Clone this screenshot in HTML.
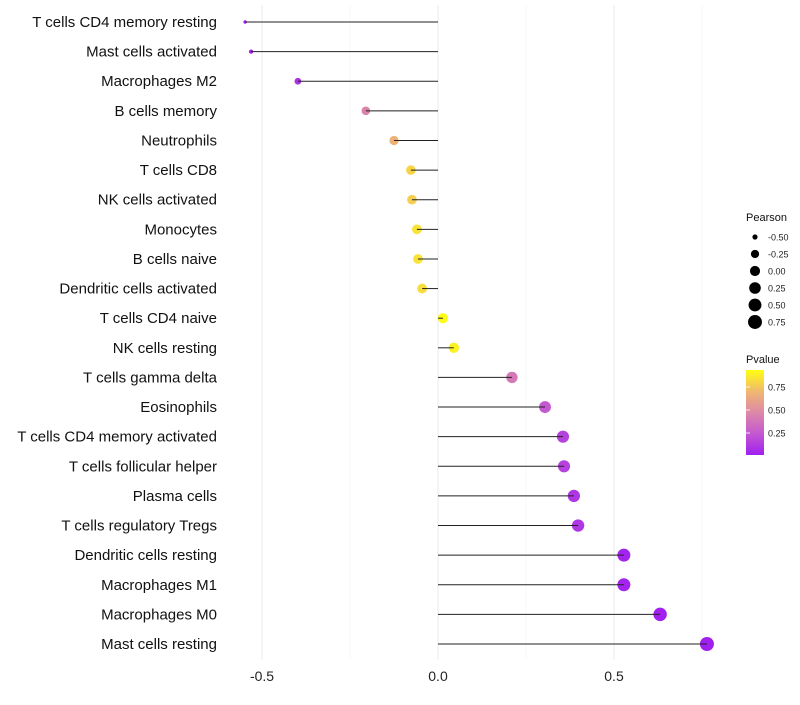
<!DOCTYPE html>
<html><head><meta charset="utf-8"><style>
body{margin:0;background:#fff;}
svg text{font-family:"Liberation Sans",sans-serif;}
</style></head><body>
<svg id="chart" width="800" height="700">
<defs><linearGradient id="pg" x1="0" y1="1" x2="0" y2="0">
<stop offset="0" stop-color="#a020f0"/><stop offset="0.25" stop-color="#c458d0"/><stop offset="0.5" stop-color="#dc88a8"/><stop offset="0.75" stop-color="#f0b870"/><stop offset="1" stop-color="#ffff10"/></linearGradient></defs>
<g id="grid"></g><g id="marks"></g><g id="labels"></g><g id="legend"></g>
</svg>
<script>
const categories=["T cells CD4 memory resting","Mast cells activated","Macrophages M2","B cells memory","Neutrophils","T cells CD8","NK cells activated","Monocytes","B cells naive","Dendritic cells activated","T cells CD4 naive","NK cells resting","T cells gamma delta","Eosinophils","T cells CD4 memory activated","T cells follicular helper","Plasma cells","T cells regulatory  Tregs ","Dendritic cells resting","Macrophages M1","Macrophages M0","Mast cells resting"];
const pearson=[-0.548,-0.531,-0.398,-0.205,-0.125,-0.077,-0.074,-0.060,-0.057,-0.045,0.014,0.045,0.210,0.304,0.355,0.358,0.386,0.398,0.528,0.528,0.631,0.764];
const pvalue=[0.01,0.01,0.08,0.48,0.72,0.85,0.83,0.9,0.9,0.88,0.99,0.95,0.42,0.25,0.15,0.15,0.1,0.1,0.02,0.02,0.01,0.0];
const xTicks=[-0.5,0,0.5];
const xTickLabels=["-0.5","0.0","0.5"];
const minorTicks=[-0.25,0.25,0.75];
const sizeLegend=[-0.5,-0.25,0,0.25,0.5,0.75];
const sizeLegendLabels=["-0.50","-0.25","0.00","0.25","0.50","0.75"];
const pLegend=[0.25,0.5,0.75];
const pLegendLabels=["0.25","0.50","0.75"];
const NS="http://www.w3.org/2000/svg";
const x=v=>438+v*352;
const y=i=>22+i*(622/(categories.length-1));
const r=v=>1.5+5.5*Math.sqrt(Math.max(0,(v+0.55)/1.31));
const stops=[[0,[160,32,240]],[0.25,[196,88,208]],[0.5,[220,136,168]],[0.75,[240,184,112]],[1,[255,255,16]]];
function col(p){for(let k=0;k<stops.length-1;k++){const [a,ca]=stops[k],[b,cb]=stops[k+1];
 if(p<=b){const t=(p-a)/(b-a);return "rgb("+ca.map((v,j)=>Math.round(v+(cb[j]-v)*t)).join(",")+")";}}
 return "rgb(255,255,16)";}
function mk(tag,attrs,parent){const e=document.createElementNS(NS,tag);for(const k in attrs)e.setAttribute(k,attrs[k]);parent.appendChild(e);return e;}
const G=document.getElementById("grid"),M=document.getElementById("marks"),L=document.getElementById("labels"),LG=document.getElementById("legend");
minorTicks.forEach(v=>{const l=mk("line",{x1:x(v),x2:x(v),y1:5,y2:660,stroke:"#f3f3f3","stroke-width":0.6},G);

});
xTicks.forEach((v,i)=>{const l=mk("line",{x1:x(v),x2:x(v),y1:5,y2:660,stroke:"#ebebeb","stroke-width":1},G);


const t=mk("text",{x:x(v),y:681,"text-anchor":"middle","font-size":14,fill:"#222"},L);t.textContent=xTickLabels[i];

});
categories.forEach((c,i)=>{const yy=y(i);
const t=mk("text",{x:217,y:yy+5,"text-anchor":"end","font-size":15,fill:"#111"},L);t.textContent=c;


const d=mk("circle",{cx:x(pearson[i]),cy:yy,r:r(pearson[i]),fill:col(pvalue[i])},M);


const ln=mk("line",{x1:x(0),x2:x(pearson[i]),y1:yy,y2:yy,stroke:"#222","stroke-width":1},M);

});
let t=mk("text",{x:746,y:221,"font-size":11,fill:"#111"},LG);t.textContent="Pearson";


sizeLegend.forEach((v,i)=>{const yy=237+i*17;
const c=mk("circle",{cx:755,cy:yy,r:r(v),fill:"#000"},LG);


const tt=mk("text",{x:768,y:yy+3.5,"font-size":9,fill:"#222"},LG);tt.textContent=sizeLegendLabels[i];

});
t=mk("text",{x:746,y:363,"font-size":11,fill:"#111"},LG);t.textContent="Pvalue";


const bar=mk("rect",{x:746,y:370,width:18,height:85,fill:"url(#pg)"},LG);


const py=p=>456-p*92;
pLegend.forEach((v,i)=>{const tk=mk("line",{x1:746,x2:750,y1:py(v),y2:py(v),stroke:"#fff","stroke-width":0.8},LG);


const tt=mk("text",{x:768,y:py(v)+3.5,"font-size":9,fill:"#222"},LG);tt.textContent=pLegendLabels[i];

});
</script>
</body></html>
